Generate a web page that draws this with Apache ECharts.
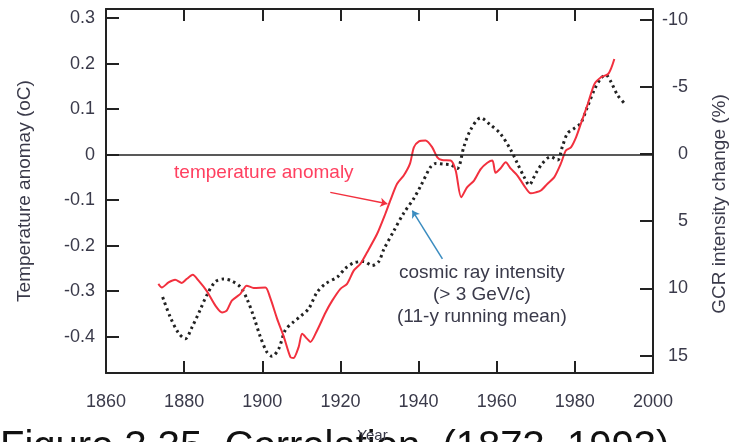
<!DOCTYPE html>
<html>
<head>
<meta charset="utf-8">
<script src="https://cdn.jsdelivr.net/npm/echarts@6/dist/echarts.min.js"></script>
<style>
html,body{margin:0;padding:0;background:#fff;}
#chart{width:742px;height:442px;}
</style>
</head>
<body>
<div id="chart"></div>
<script>
// ---- data ----
const tempYears = [1873.4,1874.3,1876,1877.7,1879.4,1880.7,1882.2,1883.7,1885.8,1888,1889.7,1890.9,1892.2,1894.4,1896,1897.8,1900.8,1902,1903.8,1905.5,1907.2,1908,1909.3,1910.2,1911.5,1912.3,1914,1916.2,1917.9,1920,1921.7,1923.4,1925.1,1926.8,1929.4,1931.5,1932.8,1934.5,1936.2,1937.8,1938.8,1940.1,1941.8,1943.5,1944.8,1946,1948.2,1949.5,1950.9,1952.4,1954.2,1955.9,1957.6,1958.9,1959.7,1961,1962.3,1963.6,1965.3,1967,1968.7,1970,1971.3,1973,1974.7,1976.4,1977.7,1979,1980.3,1981.5,1983.3,1985,1986.7,1988.5,1989.4,1990.1];
const tempValues = [-0.284,-0.292,-0.281,-0.275,-0.282,-0.273,-0.264,-0.277,-0.30,-0.332,-0.347,-0.343,-0.321,-0.306,-0.288,-0.293,-0.292,-0.314,-0.361,-0.40,-0.445,-0.447,-0.423,-0.394,-0.405,-0.412,-0.387,-0.347,-0.321,-0.295,-0.284,-0.255,-0.24,-0.215,-0.174,-0.13,-0.10,-0.064,-0.046,-0.02,0.016,0.029,0.031,0.016,-0.006,-0.012,-0.013,-0.035,-0.094,-0.072,-0.057,-0.032,-0.018,-0.013,-0.04,-0.03,-0.017,-0.031,-0.046,-0.068,-0.085,-0.083,-0.079,-0.064,-0.05,-0.02,0.009,0.016,0.038,0.067,0.111,0.155,0.17,0.177,0.192,0.21];

const gcrYears = [1874.5,1876.4,1878.5,1880.3,1882,1884.1,1885.8,1888,1890.1,1892.2,1894.4,1896.1,1897.8,1899.5,1901.2,1902.5,1904.2,1905.9,1908,1909.7,1911.9,1914,1916.2,1919.2,1921.3,1923.4,1926,1928.1,1929.8,1931.1,1933.7,1936.2,1938.8,1940.5,1943.1,1944.4,1946.5,1948.2,1949.9,1951.6,1953.3,1955.9,1958.3,1961,1963.6,1965.3,1967,1968.3,1970,1971.7,1973.8,1975.6,1976.8,1978.1,1979.8,1981.5,1983.2,1985,1986.7,1987.9,1989.2,1990.9,1992.6];
const gcrValues = [10.65,12.1,13.3,13.75,12.9,11.6,10.5,9.5,9.3,9.45,9.9,10.8,12.1,13.6,14.75,15.05,14.5,13.1,12.5,12.1,11.5,10.3,9.65,9.15,8.5,8.1,8.0,8.3,8.0,7.1,5.7,4.4,3.3,2.4,0.95,0.7,0.75,0.8,1.07,-0.55,-1.8,-2.7,-2.2,-1.5,-0.3,0.7,1.7,2.3,1.44,0.7,0.2,0.45,-0.55,-1.54,-1.9,-2.3,-3.5,-4.8,-5.65,-5.9,-5.4,-4.4,-3.8];

const xTickValues = [1860,1880,1900,1920,1940,1960,1980,2000];
const leftTickValues = [-0.4,-0.3,-0.2,-0.1,0,0.1,0.2,0.3];
const rightTickValues = [-10,-5,0,5,10,15];

const labelTemp = 'temperature anomaly';
const labelGcr = 'cosmic ray intensity\n(> 3 GeV/c)\n(11-y running mean)';
const caption = 'Figure 3.35  Correlation  (1873–1993)';

// ---- chart ----
const FONT = '"Liberation Sans", Arial, sans-serif';
const AX = '#222';
const TXT = '#3a3a4a';
const RED = '#f2303e';

const chart = echarts.init(document.getElementById('chart'), null, {renderer: 'canvas'});

const tempData = tempYears.map((y, i) => [y, tempValues[i]]);
const gcrData = gcrYears.map((y, i) => [y, gcrValues[i]]);

const axLine = {show: true, onZero: false, lineStyle: {color: AX, width: 2}};
const axTick = {show: true, inside: true, length: 12, lineStyle: {color: AX, width: 2}};

const option = {
  animation: false,
  backgroundColor: '#fff',
  grid: {left: 106, right: 89, top: 9, bottom: 69, containLabel: false, outerBoundsMode: 'none'},
  xAxis: [
    {
      type: 'value', position: 'bottom', min: 1860, max: 2000, interval: 20,
      axisLine: axLine,
      axisTick: Object.assign({}, axTick, {customValues: xTickValues}),
      axisLabel: {customValues: xTickValues, margin: 20, fontSize: 18, color: TXT, fontFamily: FONT,
        formatter: v => String(v)},
      splitLine: {show: false},
      name: 'Year', nameLocation: 'middle', nameGap: 55,
      nameTextStyle: {fontSize: 15, color: TXT, fontFamily: FONT, padding: [0, 14, 0, 0]},
      z: 10
    },
    {
      type: 'value', position: 'top', min: 1860, max: 2000, interval: 20,
      axisLine: axLine,
      axisTick: Object.assign({}, axTick, {customValues: xTickValues}),
      axisLabel: {show: false}, splitLine: {show: false}
    }
  ],
  yAxis: [
    {
      type: 'value', position: 'left', min: -0.48, max: 0.32,
      axisLine: axLine,
      axisTick: Object.assign({}, axTick, {customValues: leftTickValues, length: 13}),
      axisLabel: {customValues: leftTickValues, margin: 11, fontSize: 18, color: TXT, fontFamily: FONT,
        formatter: v => String(Math.round(v * 10) / 10)},
      splitLine: {show: false},
      name: 'Temperature anomay (oC)', nameLocation: 'middle', nameGap: 72, nameRotate: 90,
      nameTextStyle: {fontSize: 19, color: TXT, fontFamily: FONT}
    },
    {
      type: 'value', position: 'right', min: -10.8, max: 16.3, inverse: true,
      axisLine: axLine,
      axisTick: Object.assign({}, axTick, {customValues: rightTickValues, length: 13}),
      axisLabel: {customValues: rightTickValues, margin: 35, align: 'right', fontSize: 18, color: TXT, fontFamily: FONT},
      splitLine: {show: false},
      name: 'GCR intensity change (%)', nameLocation: 'middle', nameGap: 57, nameRotate: 90,
      nameTextStyle: {fontSize: 19, color: TXT, fontFamily: FONT, padding: [0, 26, 0, 0]}
    }
  ],
  series: [
    {
      name: 'cosmic ray intensity', type: 'line', xAxisIndex: 0, yAxisIndex: 1,
      data: gcrData, showSymbol: false, smooth: 0.3,
      lineStyle: {color: '#222', width: 3, type: [2.5, 3.5], cap: 'butt'},
      z: 2
    },
    {
      name: 'temperature anomaly', type: 'line', xAxisIndex: 0, yAxisIndex: 0,
      data: tempData, showSymbol: false, smooth: 0.25,
      lineStyle: {color: RED, width: 2},
      z: 3,
      markLine: {
        silent: true, symbol: 'none', animation: false,
        label: {show: false},
        data: [
          {yAxis: 0, lineStyle: {color: AX, width: 1.5, type: 'solid'}},
          [
            {coord: [1917.4, -0.083], symbol: 'none', lineStyle: {color: RED, width: 1.5, type: 'solid'}},
            {coord: [1932.0, -0.108], symbol: 'arrow', symbolSize: 7}
          ],
          [
            {coord: [1946.1, -0.229], symbol: 'none', lineStyle: {color: '#3a8cc0', width: 1.5, type: 'solid'}},
            {coord: [1938.4, -0.123], symbol: 'arrow', symbolSize: 7}
          ]
        ]
      }
    }
  ]
};
chart.setOption(option);

function placeText() {
  const p1 = chart.convertToPixel({xAxisIndex: 0, yAxisIndex: 0}, [1900.4, -0.041]);
  const p2 = chart.convertToPixel({xAxisIndex: 0, yAxisIndex: 0}, [1956.2, -0.309]);
  chart.setOption({
    graphic: [
      {type: 'text', x: 0, y: 428, silent: true, z: -1, zlevel: 0,
        style: {text: caption, fill: '#111', font: '40px ' + FONT, align: 'left', verticalAlign: 'top'}},
      {type: 'text', x: p1[0], y: p1[1], silent: true,
        style: {text: labelTemp, fill: '#ff4060', font: '19px ' + FONT, align: 'center', verticalAlign: 'middle'}},
      {type: 'text', x: p2[0], y: p2[1], silent: true,
        style: {text: labelGcr, fill: TXT, font: '19px ' + FONT, align: 'center', verticalAlign: 'middle', lineHeight: 22}}
    ]
  });
}
placeText();
</script>
</body>
</html>
